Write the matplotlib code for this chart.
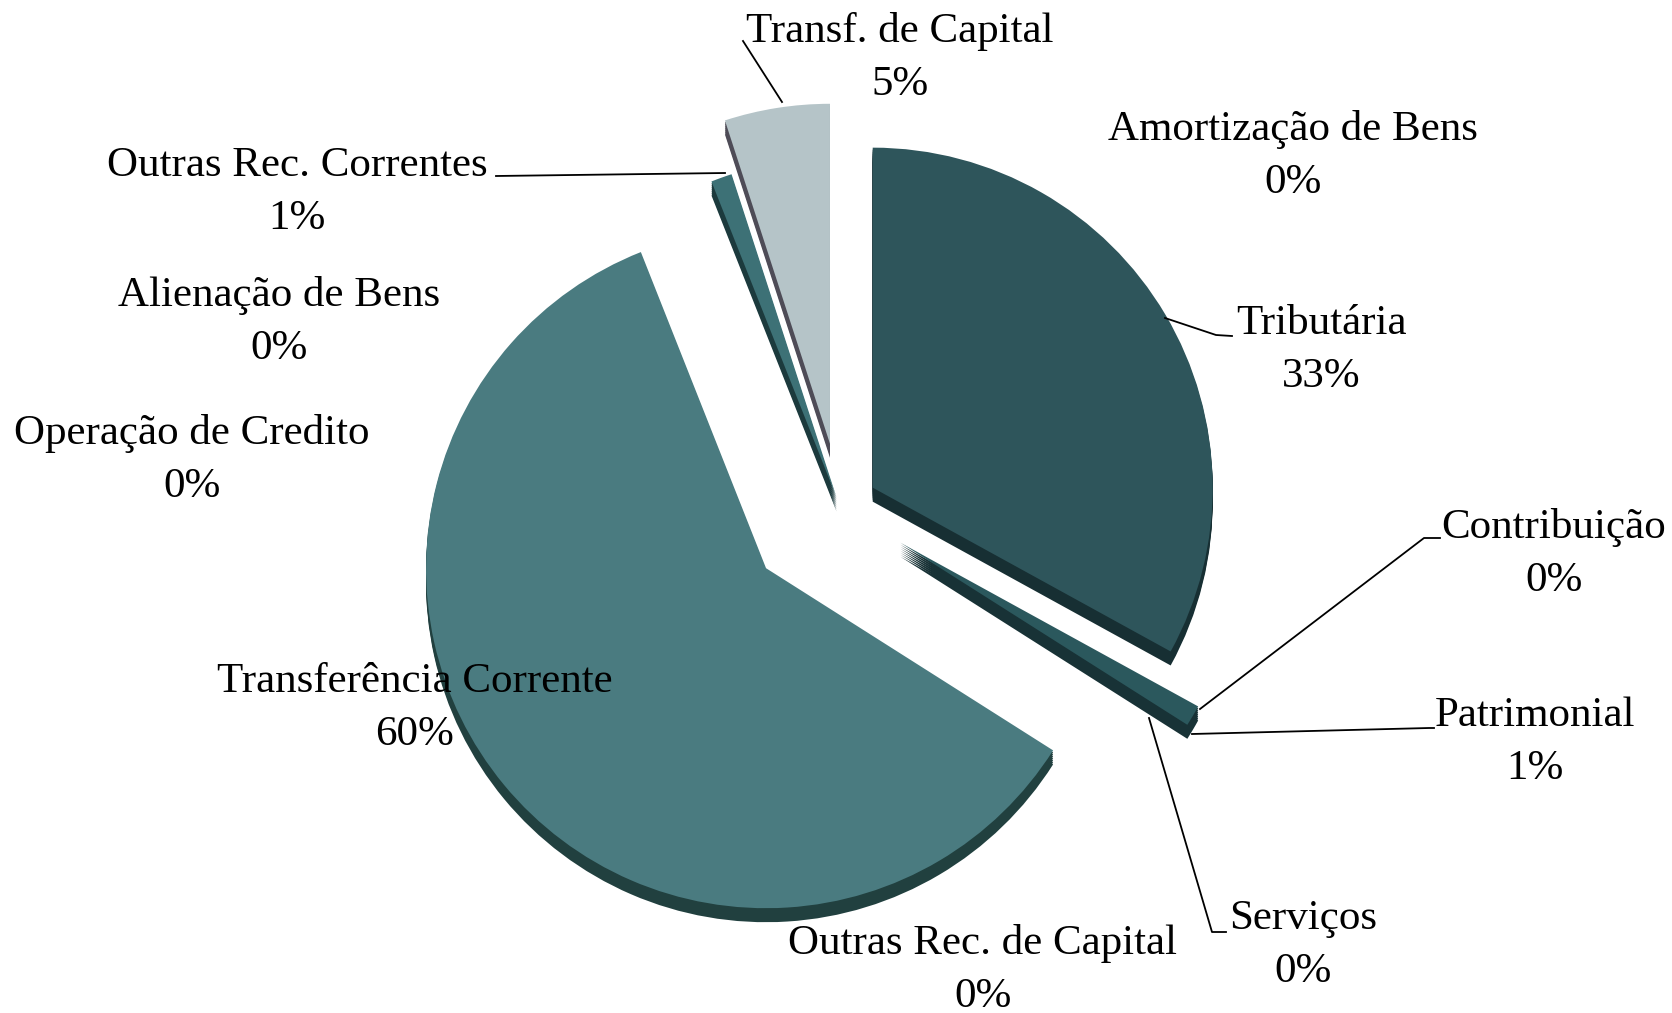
import matplotlib.pyplot as plt
import numpy as np

# receita por origem (%), em ordem horaria a partir das 12h
categorias = ['Tributária', 'Contribuição', 'Patrimonial', 'Serviços',
              'Transferência Corrente', 'Outras Rec. Correntes',
              'Transf. de Capital', 'Amortização de Bens',
              'Alienação de Bens', 'Operação de Credito',
              'Outras Rec. de Capital']
valores = [33, 0, 1, 0, 60, 1, 5, 0, 0, 0, 0]
rotulos = ['33%', '0%', '1%', '0%', '60%', '1%', '5%', '0%', '0%', '0%', '0%']

cores_topo = ['#2e555b', '#2e555b', '#2b585d', '#2b585d', '#4a7b80',
              '#3d7176', '#b5c4c8', '#999999', '#999999', '#999999', '#999999']
cores_lado = ['#172f33', '#172f33', '#183236', '#183236', '#21403f',
              '#1c3a3d', '#4e4c57', '#555555', '#555555', '#555555', '#555555']
explode = [38, 0, 70, 0, 96, 10, 64, 0, 0, 0, 0]

W, H = 1672, 1013
fig = plt.figure(figsize=(W / 100, H / 100), dpi=100)
ax = fig.add_axes([0, 0, 1, 1])

cx, cy, raio = 840, 506, 340
profundidade = 14

# lateral (efeito 3D)
for d in range(profundidade, 0, -2):
    ax.pie(valores, explode=explode, radius=raio, center=(cx, cy - d),
           startangle=90, counterclock=False, colors=cores_lado,
           wedgeprops=dict(linewidth=0), frame=True)
# topo
ax.pie(valores, explode=explode, radius=raio, center=(cx, cy),
       startangle=90, counterclock=False, colors=cores_topo,
       wedgeprops=dict(linewidth=0), frame=True)
ax.set_xlim(0, W)
ax.set_ylim(0, H)
ax.set_aspect('equal')
ax.axis('off')

fonte = dict(family='Liberation Serif', fontsize=31, ha='center',
             va='center', linespacing=1.5, color='black')

# posicao dos rotulos (x, y) em pixels
pos = {
    'Tributária': (1321, 663),
    'Contribuição': (1554, 459),
    'Patrimonial': (1535, 271),
    'Serviços': (1303, 68),
    'Transferência Corrente': (415, 305),
    'Outras Rec. Correntes': (297, 821),
    'Transf. de Capital': (900, 955),
    'Amortização de Bens': (1293, 857),
    'Alienação de Bens': (279, 691),
    'Operação de Credito': (192, 553),
    'Outras Rec. de Capital': (983, 43),
}
for nome, rot in zip(categorias, rotulos):
    x, y = pos[nome]
    ax.text(x, y, nome + '\n' + rot, **fonte)

# linhas de chamada
linhas = [
    [(782, 911), (743, 972)],
    [(496, 837), (725, 840)],
    [(1165, 695), (1216, 678), (1232, 677)],
    [(1200, 304), (1424, 475), (1440, 475)],
    [(1192, 279), (1429, 285), (1434, 285)],
    [(1149, 295), (1212, 81), (1226, 81)],
]
for ln in linhas:
    xs, ys = zip(*ln)
    ax.plot(xs, ys, color='black', lw=1.3)

fig.savefig('out.png', dpi=100, facecolor='white')
